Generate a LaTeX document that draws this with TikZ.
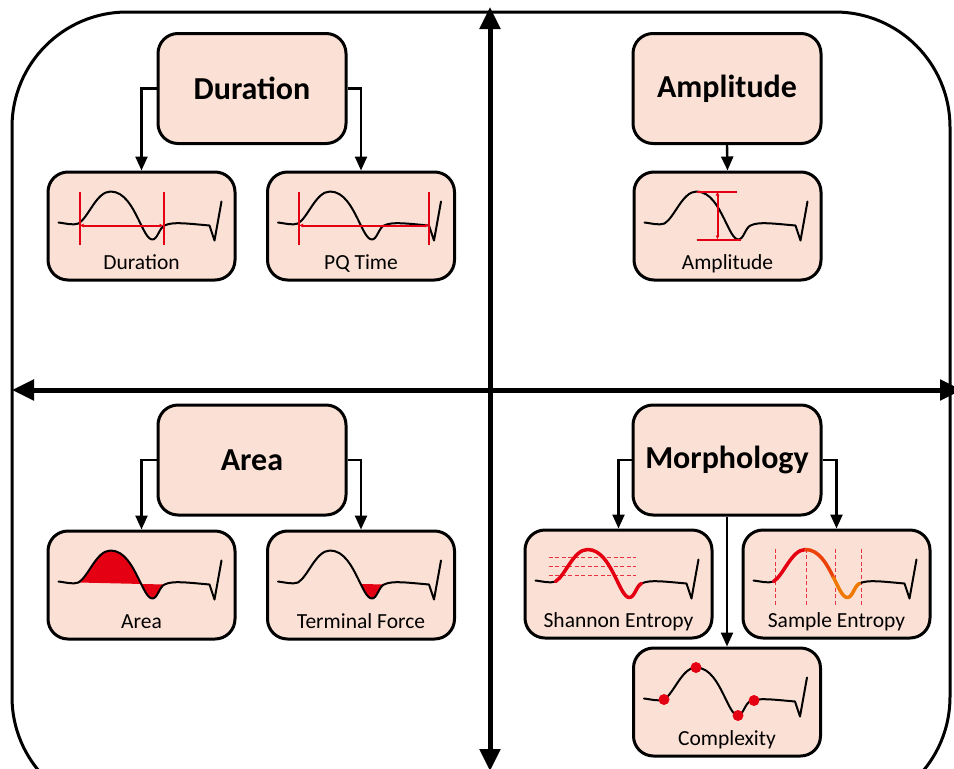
\documentclass[tikz,border=0pt]{standalone}
\usepackage{fontspec}
\setmainfont{Carlito}
\usetikzlibrary{arrows.meta}
\definecolor{peach}{RGB}{251,225,213}
\definecolor{ecgred}{RGB}{228,0,18}
\definecolor{ecgorange}{RGB}{240,120,0}
\definecolor{ecgmid}{RGB}{236,66,10}
\def\wvA{(12,52) .. controls (20,53) and (26,55) .. (32,53)}
\def\wvB{.. controls (42,47) and (50,21) .. (64,21) .. controls (78,21) and (86,37) .. (92,49) .. controls (97,59) and (101,69) .. (106,69) .. controls (111,69) and (113,57) .. (118,55)}
\def\wvC{.. controls (126,51) and (140,53) .. (163,55) -- (168,70) -- (175,31)}
\tikzset{
  bigbox/.style={draw, line width=3pt, fill=peach, rounded corners=20pt,
    minimum width=188pt, minimum height=110pt, inner sep=0pt,
    font=\bfseries\fontsize{32}{32}\selectfont},
  smallbox/.style={draw, line width=3pt, fill=peach, rounded corners=20pt,
    minimum width=187pt, minimum height=108pt, inner sep=0pt},
  lbl/.style={anchor=base, inner sep=0pt, font=\fontsize{21.5}{22}\selectfont},
  conn/.style={line width=2.4pt, -{Triangle[length=14pt,width=12pt]}},
  axis/.style={line width=5pt, {Triangle[length=22pt,width=20pt]}-{Triangle[length=22pt,width=20pt]}},
  wave/.style={line width=2pt, line cap=round, line join=round},
  hot/.style={line width=3.5pt, line cap=round, line join=round},
  redmark/.style={ecgred, line width=2pt},
  dashmark/.style={ecgred!80, line width=1.2pt, dash pattern=on 4pt off 2.5pt},
}
\begin{document}
\begin{tikzpicture}[x=1pt, y=-1pt]
\useasboundingbox (0,0) rectangle (954,769);
\clip (0,0) rectangle (954,769);
\fill[white] (0,0) rectangle (954,769);
% frame
\draw[line width=3pt, rounded corners=115pt] (12,12) rectangle (950,812);
% axes
\coordinate (vt) at (490,7);
\coordinate (vb) at (490,771);
\coordinate (hl) at (12,390);
\coordinate (hr) at (962,390);
\draw[axis] (vt) -- (vb);
\draw[axis] (hl) -- (hr);

% main boxes
\node[bigbox] (dur) at (252,88.5) {Duration};
\node[bigbox] (amp) at (727,88.5) {Amplitude};
\node[bigbox] (area) at (252,460) {Area};
\node[bigbox] (morph) at (727,460) {Morphology};

% sub boxes
\node[smallbox] (dur2) at (141.5,226) {};
\node[smallbox] (pq) at (361,226) {};
\node[smallbox] (amp2) at (727.5,226) {};
\node[smallbox] (area2) at (141.5,585) {};
\node[smallbox] (tf) at (361,585) {};
\node[smallbox] (sh) at (618.5,584) {};
\node[smallbox] (se) at (836.5,584) {};
\node[smallbox] (cx) at (727,702) {};

% labels
\node[lbl] (dur2t) at ([yshift=12pt]dur2.south) {Duration};
\node[lbl] (pqt) at ([yshift=12pt]pq.south) {PQ Time};
\node[lbl] (amp2t) at ([yshift=12pt]amp2.south) {Amplitude};
\node[lbl] (area2t) at ([yshift=12pt]area2.south) {Area};
\node[lbl] (tft) at ([yshift=12pt]tf.south) {Terminal Force};
\node[lbl] (sht) at ([yshift=12pt]sh.south) {Shannon Entropy};
\node[lbl] (set) at ([yshift=12pt]se.south) {Sample Entropy};
\node[lbl] (cxt) at ([yshift=12pt]cx.south) {Complexity};

% connectors
\draw[conn] (dur.west) -| (dur2.north);
\draw[conn] (dur.east) -| (pq.north);
\draw[conn] (amp.south) -- (amp2.north);
\draw[conn] (area.west) -| (area2.north);
\draw[conn] (area.east) -| (tf.north);
\draw[conn] (morph.west) -| (sh.north);
\draw[conn] (morph.east) -| (se.north);
\draw[conn] (morph.south) -- (cx.north);

% Duration
\begin{scope}[shift={(dur2.north west)}]
  \draw[wave] \wvA \wvB \wvC;
  \draw[redmark] (33,21) -- (33,74);
  \draw[redmark] (117,21) -- (117,74);
  \draw[redmark, {Latex[length=4pt,width=4pt]}-{Latex[length=4pt,width=4pt]}] (33,55) -- (117,55);
\end{scope}
% PQ time
\begin{scope}[shift={(pq.north west)}]
  \draw[wave] \wvA \wvB \wvC;
  \draw[redmark] (33,21) -- (33,74);
  \draw[redmark] (163,21) -- (163,74);
  \draw[redmark, {Latex[length=4pt,width=4pt]}-{Latex[length=4pt,width=4pt]}] (33,55) -- (163,55);
\end{scope}
% Amplitude
\begin{scope}[shift={(amp2.north west)}]
  \draw[wave] \wvA \wvB \wvC;
  \draw[redmark] (64,21) -- (104,21);
  \draw[redmark] (64,69) -- (108,69);
  \draw[redmark, {Latex[length=4pt,width=4pt]}-{Latex[length=4pt,width=4pt]}] (85,21) -- (85,69);
\end{scope}
% Area
\begin{scope}[shift={(area2.north west)}]
  \fill[ecgred] (32,53) \wvB -- cycle;
  \draw[wave] \wvA \wvB \wvC;
\end{scope}
% Terminal force
\begin{scope}[shift={(tf.north west)}]
  \begin{scope}
    \clip (94,0) rectangle (130,100);
    \fill[ecgred] (32,53) \wvB -- cycle;
  \end{scope}
  \draw[wave] \wvA \wvB \wvC;
\end{scope}
% Shannon entropy
\begin{scope}[shift={(sh.north west)}]
  \draw[dashmark] (25,29) -- (112,29);
  \draw[dashmark] (25,38) -- (112,38);
  \draw[dashmark] (25,47) -- (112,47);
  \draw[wave] \wvA \wvB \wvC;
  \draw[hot, ecgred] (32,53) \wvB;
\end{scope}
% Sample entropy
\begin{scope}[shift={(se.north west)}]
  \draw[dashmark] (34,20) -- (34,78);
  \draw[dashmark] (65,20) -- (65,78);
  \draw[dashmark] (94,20) -- (94,78);
  \draw[dashmark] (120,20) -- (120,78);
  \draw[wave] \wvA \wvB \wvC;
  \draw[hot, ecgred] (32,53) .. controls (42,47) and (50,21) .. (64,21);
  \draw[hot, ecgmid] (64,21) .. controls (78,21) and (86,37) .. (92,49);
  \draw[hot, ecgorange] (92,49) .. controls (97,59) and (101,69) .. (106,69) .. controls (111,69) and (113,57) .. (118,55);
\end{scope}
% Complexity
\begin{scope}[shift={(cx.north west)}]
  \draw[wave] \wvA \wvB \wvC;
  \fill[ecgred] (32,53) circle (5.5);
  \fill[ecgred] (64,21) circle (5.5);
  \fill[ecgred] (106,69) circle (5.5);
  \fill[ecgred] (122,54) circle (5.5);
\end{scope}
\end{tikzpicture}
\end{document}
